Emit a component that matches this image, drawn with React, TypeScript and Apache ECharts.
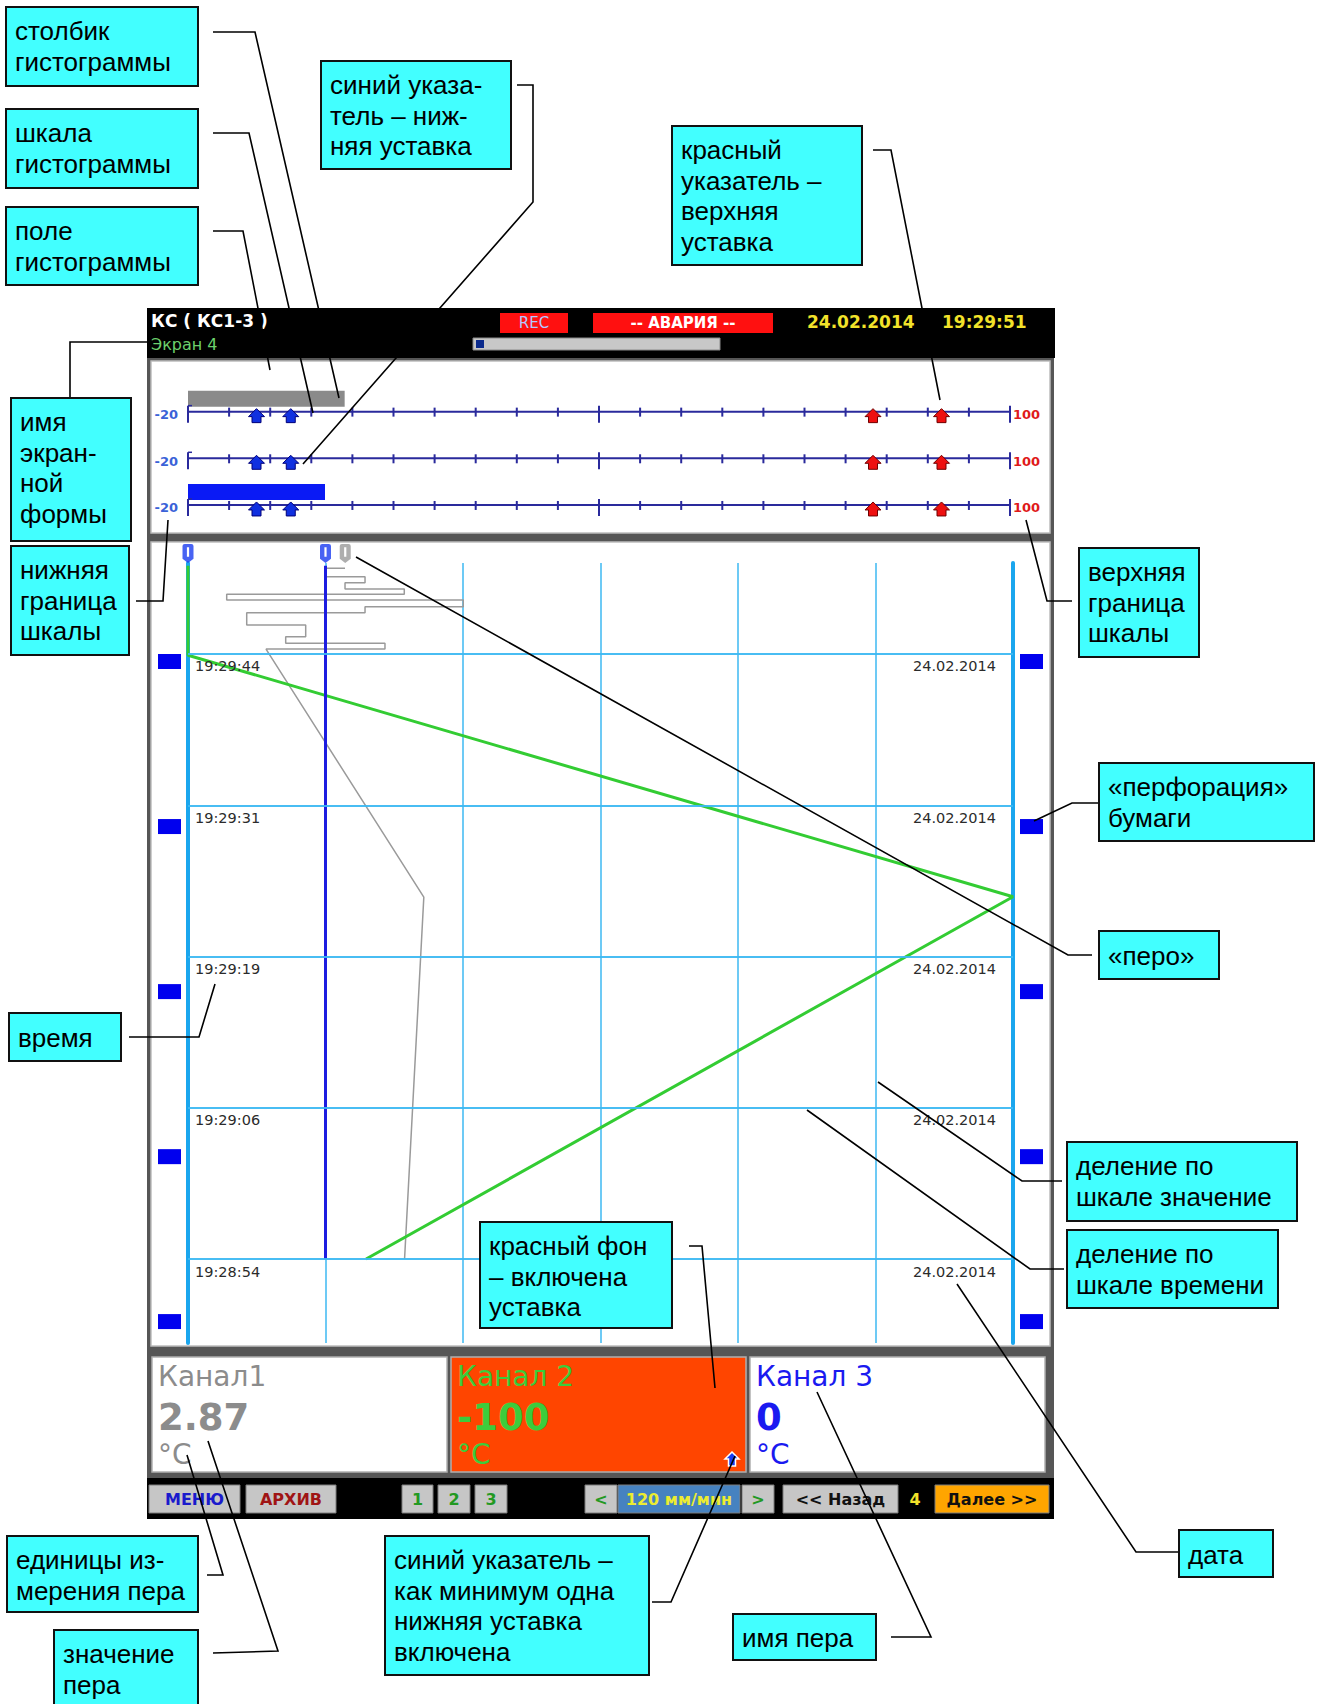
import React, { useEffect, useRef } from 'react';
import * as echarts from 'echarts';

const W = 1327;
const H = 1704;

// ---------------- data ----------------
const scaleMin = -20;
const scaleMax = 100;
const valueGridStep = 20;
const penNames = ['Канал1', 'Канал 2', 'Канал 3'];
const penValues = [2.87, -100, 0];
const penValueTexts = ['2.87', '-100', '0'];
const penUnits = ['°C', '°C', '°C'];
const lowSetpoints = [-10, -5];
const highSetpoints = [80, 90];
const histTicks = [-20, -14, -8, -2, 4, 10, 16, 22, 28, 34, 40, 46, 52, 58, 64, 70, 76, 82, 88, 94, 100];
const histMajorTicks = [-20, 40, 100];

// time axis: seconds after 19:28:00
const timeMin = 47.06;
const timeMax = 111.52;
const gridTimes = [54, 66.5, 79, 91.5, 104];
const timeLabels = ['19:28:54', '19:29:06', '19:29:19', '19:29:31', '19:29:44'];
const chartDate = '24.02.2014';
const headerDate = '24.02.2014';
const headerTime = '19:29:51';
const perforationTimes = [103.38, 89.74, 76.1, 62.46, 48.83];

// pen traces [value, time]
const pen1Trace = [
  [2.84, 111.08], [0, 111.08], [0, 110.39], [5.75, 110.39], [5.75, 109.89], [2.84, 109.89],
  [2.84, 109.37], [11.46, 109.37], [11.46, 108.93], [-14.37, 108.93], [-14.37, 108.46],
  [20.04, 108.46], [20.04, 107.91], [5.75, 107.91], [5.75, 107.41], [-11.46, 107.41],
  [-11.46, 106.4], [-2.88, 106.4], [-2.88, 105.43], [-5.79, 105.43], [-5.79, 104.88],
  [8.65, 104.88], [8.65, 104.41], [-8.65, 104.41], [14.3, 83.9], [11.5, 54]
];
const pen2Trace = [[-20, 111.3], [-20, 103.9], [100, 83.94], [5.9, 54]];
const pen3Trace = [[0, 111.3], [0, 54]];
const penMarkerValues = [2.87, -20, 0];

// ---------------- styles ----------------
const penLineColors = ['#9a9a9a', '#33cc33', '#1c1ce0'];
const penMarkerColors = ['#9a9a9a', '#1a3cf0', '#1a3cf0'];
const penTextColors = ['#8c8c8c', '#3ccc3c', '#1a1af0'];
const cellFills = ['#ffffff', '#ff4500', '#ffffff'];
const histBarColors = ['#8a8a8a', '#30c030', '#0a1af5'];
const gridColor = '#3cb8f2';
const edgeColor = '#1aa6ee';
const DV = '"DejaVu Sans", Verdana, sans-serif';
const AR = '"Liberation Sans", Arial, sans-serif';

const markerPath =
  'path://M2,0 L8,0 Q10,0 10,2 L10,14 L5,18 L0,14 L0,2 Q0,0 2,0 Z M4,3 L4,12 L6,12 L6,3 Z';

// ---------------- helpers ----------------
const R = (x: number, y: number, w: number, h: number, fill: string, stroke?: string, lw = 1, z = -10) => ({
  type: 'rect', z, silent: true,
  shape: { x, y, width: w, height: h },
  style: { fill, stroke: stroke || null, lineWidth: stroke ? lw : 0 }
});
const T = (x: number, y: number, text: string, fill: string, font: string, align = 'left', va = 'middle', z = -5, extra: any = {}) => ({
  type: 'text', x, y, z, silent: true,
  style: { text, fill, font, textAlign: align, textVerticalAlign: va, align, verticalAlign: va, ...extra }
});

const notes: { lines: string[]; box: number[]; lead: number[][] }[] = [
  { lines: ['столбик', 'гистограммы'], box: [6, 7, 192, 79], lead: [[213, 32], [255, 32], [339, 398]] },
  { lines: ['шкала', 'гистограммы'], box: [6, 109, 192, 79], lead: [[213, 133], [249, 133], [313, 413]] },
  { lines: ['поле', 'гистограммы'], box: [6, 207, 192, 78], lead: [[213, 231], [243, 231], [270, 370]] },
  { lines: ['синий указа-', 'тель – ниж-', 'няя уставка'], box: [321, 61, 190, 108], lead: [[517, 85], [533, 85], [533, 202], [303, 464]] },
  { lines: ['красный', 'указатель –', 'верхняя', 'уставка'], box: [672, 126, 190, 139], lead: [[873, 150], [891, 150], [940, 400]] },
  { lines: ['имя', 'экран-', 'ной', 'формы'], box: [11, 398, 120, 143], lead: [[70, 398], [70, 342], [150, 342]] },
  { lines: ['нижняя', 'граница', 'шкалы'], box: [11, 546, 118, 109], lead: [[136, 601], [163, 601], [168, 520]] },
  { lines: ['время'], box: [9, 1013, 112, 48], lead: [[129, 1037], [199, 1037], [215, 984]] },
  { lines: ['верхняя', 'граница', 'шкалы'], box: [1079, 548, 120, 109], lead: [[1072, 601], [1047, 601], [1026, 520]] },
  { lines: ['«перфорация»', 'бумаги'], box: [1099, 763, 215, 78], lead: [[1099, 803], [1072, 803], [1034, 821]] },
  { lines: ['«перо»'], box: [1099, 931, 120, 48], lead: [[1092, 955], [1068, 955], [356, 557]] },
  { lines: ['деление по', 'шкале значение'], box: [1067, 1142, 230, 79], lead: [[1062, 1181], [1022, 1181], [878, 1082]] },
  { lines: ['деление по', 'шкале времени'], box: [1067, 1230, 211, 78], lead: [[1064, 1269], [1030, 1269], [807, 1110]] },
  { lines: ['красный фон', '– включена', 'уставка'], box: [480, 1222, 192, 106], lead: [[689, 1246], [702, 1246], [715, 1388]] },
  { lines: ['единицы из-', 'мерения пера'], box: [7, 1536, 191, 76], lead: [[207, 1575], [223, 1575], [187, 1455]] },
  { lines: ['значение', 'пера'], box: [54, 1630, 144, 82], lead: [[213, 1653], [278, 1651], [208, 1441]] },
  { lines: ['синий указатель –', 'как минимум одна', 'нижняя уставка', 'включена'], box: [385, 1536, 264, 139], lead: [[652, 1602], [671, 1602], [735, 1456]] },
  { lines: ['имя пера'], box: [733, 1614, 143, 46], lead: [[891, 1637], [931, 1637], [817, 1392]] },
  { lines: ['дата'], box: [1179, 1530, 94, 47], lead: [[1179, 1552], [1136, 1552], [957, 1284]] }
];

function buildGraphic() {
  const g: any[] = [];
  // device body
  g.push(R(147, 308, 908, 50, '#000000'));
  g.push(R(147, 358, 907, 1120, '#565656'));
  g.push(R(151, 361, 899, 172, '#ffffff', '#bdbdbd', 1.5));
  g.push(R(151, 542, 899, 804, '#ffffff', '#bdbdbd', 1.5));
  g.push(R(147, 1478, 907, 41, '#000000'));

  // header
  g.push(T(151, 321, 'КС ( КС1-3 )', '#ffffff', `bold 17px ${DV}`));
  g.push(T(151, 344, 'Экран 4', '#6cd06c', `16px ${DV}`));
  g.push(R(500, 313, 68, 20, '#ff1010'));
  g.push(T(534, 323, 'REC', '#b4c8ff', `15px ${DV}`, 'center'));
  g.push(R(593, 313, 180, 20, '#ff1010'));
  g.push(T(683, 323, '-- АВАРИЯ --', '#ffffff', `bold 15px ${DV}`, 'center'));
  g.push(T(807, 322, headerDate, '#f2e22a', `bold 17px ${DV}`));
  g.push(T(942, 322, headerTime, '#f2e22a', `bold 17px ${DV}`));
  g.push(R(473, 338, 247, 12, '#c8c8c8', '#8a8a8a', 1));
  g.push(R(476, 340, 8, 8, '#0b2a8c'));

  // value cells
  const cellX = [152, 451, 750];
  cellX.forEach((cx, i) => {
    g.push(R(cx, 1357, 295, 115, cellFills[i], '#b0b0b0', 1.5));
    g.push(T(cx + 6, 1376, penNames[i], penTextColors[i], `28px ${DV}`));
    g.push(T(cx + 6, 1417, penValueTexts[i], penTextColors[i], `bold 37px ${DV}`));
    g.push(T(cx + 6, 1454, penUnits[i], penTextColors[i], `28px ${DV}`));
  });
  // small low-setpoint arrow in the red cell
  g.push({
    type: 'polygon', z: -4, silent: true,
    shape: { points: [[732, 1452], [739, 1459], [735.5, 1459], [735.5, 1466], [728.5, 1466], [728.5, 1459], [725, 1459]] },
    style: { fill: '#1a3cf0', stroke: '#ffffff', lineWidth: 1.5 }
  });

  // buttons
  const btn = (x: number, w: number, label: string, color: string, fill = '#c6c6c6') => {
    g.push(R(x, 1485, w, 28, fill, '#7c7c7c', 1));
    g.push(T(x + w / 2, 1499, label, color, `bold 16px ${DV}`, 'center'));
  };
  btn(149, 91, 'МЕНЮ', '#1a1acc');
  btn(246, 90, 'АРХИВ', '#a01414');
  btn(402, 31, '1', '#229922');
  btn(438, 32, '2', '#229922');
  btn(475, 32, '3', '#229922');
  btn(585, 32, '<', '#229922');
  btn(618, 122, '120 мм/мин', '#ecec30', '#4682c0');
  btn(742, 32, '>', '#229922');
  btn(783, 115, '<< Назад', '#111111');
  g.push(T(915, 1499, '4', '#f2e22a', `bold 16px ${DV}`, 'center'));
  btn(935, 114, 'Далее >>', '#111111', '#ffa500');

  // annotations
  notes.forEach((n) => {
    const [x, y, w, h] = n.box;
    g.push({
      type: 'polyline', z: 100, silent: true,
      shape: { points: n.lead },
      style: { stroke: '#000000', lineWidth: 1.6, fill: 'none' }
    });
    g.push({
      type: 'rect', z: 101, silent: true,
      shape: { x, y, width: w, height: h },
      style: { fill: '#42ffff', stroke: '#111111', lineWidth: 2 }
    });
    if (n.lines.length === 1) {
      g.push(T(x + 9, y + h / 2 + 1, n.lines[0], '#000000', `26px ${AR}`, 'left', 'middle', 102));
    } else {
      g.push(T(x + 9, y + 9, n.lines.join('\n'), '#000000', `26px ${AR}`, 'left', 'top', 102, { lineHeight: 30.5 }));
    }
  });
  return g;
}

function buildOption(): any {
  const timeLines: any[] = gridTimes.map((t, i) => ({
    yAxis: t,
    label: {
      show: true, position: 'insideStartBottom', formatter: timeLabels[i],
      color: '#2b2b2b', fontSize: 14.5, fontFamily: 'DejaVu Sans', distance: [7, 5]
    }
  }));
  const dateLines: any[] = gridTimes.map((t) => ({
    yAxis: t,
    label: {
      show: true, position: 'insideEndBottom', formatter: chartDate,
      color: '#2b2b2b', fontSize: 14.5, fontFamily: 'DejaVu Sans', distance: [17, 5]
    }
  }));
  const markLineBase = (data: any[]) => ({
    silent: true, symbol: ['none', 'none'], animation: false,
    lineStyle: { color: gridColor, width: 1.5, type: 'solid' },
    data
  });

  return {
    animation: false,
    backgroundColor: '#ffffff',
    grid: [
      { left: 188, top: 563, width: 825, height: 780 },
      { left: 188, top: 388.3, width: 822, height: 140 }
    ],
    xAxis: [
      {
        gridIndex: 0, type: 'value', min: scaleMin, max: scaleMax, interval: valueGridStep,
        axisLine: { show: false }, axisTick: { show: false }, axisLabel: { show: false },
        splitLine: { show: true, lineStyle: { color: gridColor, width: 1.5 } }
      },
      { gridIndex: 1, type: 'value', min: scaleMin, max: scaleMax, show: false }
    ],
    yAxis: [
      {
        gridIndex: 0, type: 'value', min: timeMin, max: timeMax, position: 'left',
        axisLine: { show: true, onZero: false, lineStyle: { color: edgeColor, width: 4 } },
        axisTick: { show: false }, axisLabel: { show: false }, splitLine: { show: false }
      },
      {
        gridIndex: 0, type: 'value', min: timeMin, max: timeMax, position: 'right',
        axisLine: { show: true, onZero: false, lineStyle: { color: edgeColor, width: 4 } },
        axisTick: { show: false }, axisLabel: { show: false }, splitLine: { show: false }
      },
      { gridIndex: 1, type: 'category', data: penNames, inverse: true, show: false }
    ],
    series: [
      {
        name: 'timeGrid', type: 'line', xAxisIndex: 0, yAxisIndex: 0, z: 1, silent: true,
        data: [[scaleMin, timeMin]], showSymbol: false, symbol: 'none', lineStyle: { opacity: 0 },
        markLine: markLineBase(timeLines)
      },
      {
        name: 'dateGrid', type: 'line', xAxisIndex: 0, yAxisIndex: 0, z: 1, silent: true,
        data: [[scaleMin, timeMin]], showSymbol: false, symbol: 'none', lineStyle: { opacity: 0 },
        markLine: markLineBase(dateLines)
      },
      {
        name: 'perforation', type: 'custom', xAxisIndex: 0, yAxisIndex: 0, z: 2, clip: false, silent: true,
        data: perforationTimes.map((t) => [scaleMin, t]),
        encode: { x: 0, y: 1 },
        renderItem: (params: any, api: any) => {
          const t = api.value(1);
          const [x0, y] = api.coord([scaleMin, t]);
          const [x1] = api.coord([scaleMax, t]);
          return {
            type: 'group',
            children: [
              { type: 'rect', shape: { x: x0 - 30, y: y - 7.5, width: 23, height: 15 }, style: { fill: '#0000ee' } },
              { type: 'rect', shape: { x: x1 + 7, y: y - 7.5, width: 23, height: 15 }, style: { fill: '#0000ee' } }
            ]
          };
        }
      },
      ...[pen1Trace, pen2Trace, pen3Trace].map((trace, i) => ({
        name: penNames[i], type: 'line', xAxisIndex: 0, yAxisIndex: 0, z: 3 + (i === 0 ? 0 : 1),
        data: trace, showSymbol: false, symbol: 'none', silent: true,
        lineStyle: { color: penLineColors[i], width: i === 0 ? 1.5 : 3 }
      })),
      {
        name: 'penMarkers', type: 'scatter', xAxisIndex: 0, yAxisIndex: 0, z: 6, silent: true,
        data: penMarkerValues.map((v, i) => ({ value: [v, timeMax], itemStyle: { color: penMarkerColors[i] } })),
        symbol: markerPath, symbolSize: [11, 19], symbolOffset: [0, -9.5]
      },
      {
        name: 'histogram', type: 'custom', xAxisIndex: 1, yAxisIndex: 2, z: 3, clip: false, silent: true,
        data: penValues.map((v, i) => [v, i]),
        encode: { x: 0, y: 1 },
        renderItem: (params: any, api: any) => {
          const v = api.value(0);
          const row = params.dataIndex;
          const [x0, y] = api.coord([scaleMin, row]);
          const [x1] = api.coord([scaleMax, row]);
          const axisColor = '#2a2a9c';
          const ch: any[] = [];
          if (v > scaleMin) {
            const [xv] = api.coord([Math.min(v, scaleMax), row]);
            ch.push({ type: 'rect', shape: { x: x0, y: y - 21, width: xv - x0, height: 16 }, style: { fill: histBarColors[row] } });
          }
          ch.push({ type: 'line', shape: { x1: x0, y1: y, x2: x1, y2: y }, style: { stroke: axisColor, lineWidth: 2 } });
          histTicks.forEach((tk) => {
            const [xt] = api.coord([tk, row]);
            const major = histMajorTicks.indexOf(tk) >= 0;
            ch.push({
              type: 'line',
              shape: { x1: xt, y1: y - (major ? 6 : 4), x2: xt, y2: y + (major ? 11 : 5) },
              style: { stroke: axisColor, lineWidth: 2 }
            });
          });
          ch.push({ type: 'line', shape: { x1: x0, y1: y - 6, x2: x0 + 4, y2: y - 6 }, style: { stroke: axisColor, lineWidth: 1.5 } });
          const arrow = (sp: number, fill: string, stroke: string) => {
            const [xa] = api.coord([sp, row]);
            ch.push({
              type: 'polygon',
              shape: { points: [[xa, y - 3], [xa + 8, y + 5], [xa + 4.5, y + 5], [xa + 4.5, y + 11], [xa - 4.5, y + 11], [xa - 4.5, y + 5], [xa - 8, y + 5]] },
              style: { fill, stroke, lineWidth: 1 }
            });
          };
          lowSetpoints.forEach((sp) => arrow(sp, '#1030e0', '#00007a'));
          highSetpoints.forEach((sp) => arrow(sp, '#ee1010', '#700000'));
          ch.push({
            type: 'text', x: x0 - 10, y: y + 3,
            style: { text: String(scaleMin), fill: '#3a62d8', font: `bold 13px ${DV}`, textAlign: 'right', textVerticalAlign: 'middle', align: 'right', verticalAlign: 'middle' }
          });
          ch.push({
            type: 'text', x: x1 + 3, y: y + 3,
            style: { text: String(scaleMax), fill: '#e01a1a', font: `bold 13px ${DV}`, textAlign: 'left', textVerticalAlign: 'middle', align: 'left', verticalAlign: 'middle' }
          });
          return { type: 'group', children: ch };
        }
      }
    ],
    graphic: { elements: buildGraphic() }
  };
}

export default function App() {
  const ref = useRef<HTMLDivElement>(null);
  useEffect(() => {
    document.body.style.margin = '0';
    const chart = echarts.init(ref.current as HTMLDivElement, null, { renderer: 'svg', width: W, height: H });
    chart.setOption(buildOption());
    return () => chart.dispose();
  }, []);
  return <div ref={ref} style={{ position: 'absolute', left: 0, top: 0, width: W, height: H, background: '#ffffff' }} />;
}
